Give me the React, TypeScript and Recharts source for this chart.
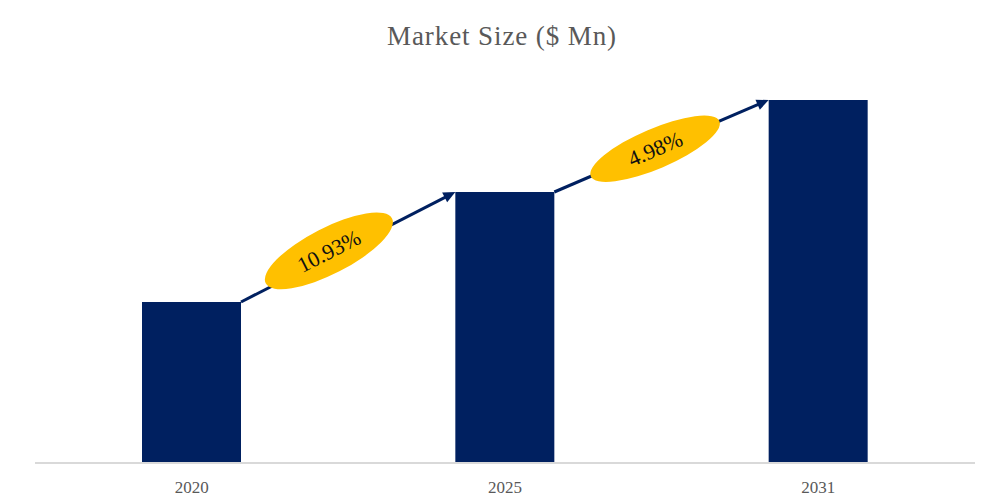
import React from 'react';
import { BarChart, Bar, XAxis, YAxis, Customized } from 'recharts';

// Values (relative units, no value axis in the source)
const years = ['2020', '2025', '2031'];
const marketSize = [161, 271, 363];
const cagrLabels = ['10.93%', '4.98%'];

const chartData = years.map((year, i) => ({ year, value: marketSize[i] }));

const NAVY = '#002060';
const GOLD = '#FFC000';
const SERIF = '"Liberation Serif", "Times New Roman", serif';

// badge placement along each arrow (fraction of length) and ellipse radii
const badgeT = [0.41, 0.47];
const badgeLift = [6, 0];
const badgeRx = [71, 70];
const badgeRy = [23, 20];

// filled as bars render, so each bar can draw the arrow from the previous one
const barBoxes: { x: number; y: number; width: number }[] = [];

function GrowthBar(props: any) {
  const { x, y, width, height, index } = props;
  barBoxes[index] = { x, y, width };
  const prev = index > 0 ? barBoxes[index - 1] : undefined;

  let arrow: React.ReactNode = null;
  if (prev) {
    const x1 = prev.x + prev.width;
    const y1 = prev.y;
    const x2 = x;
    const y2 = y;
    const dx = x2 - x1;
    const dy = y2 - y1;
    const len = Math.sqrt(dx * dx + dy * dy);
    const ux = dx / len;
    const uy = dy / len;
    const angle = (Math.atan2(dy, dx) * 180) / Math.PI;
    const headLen = 12;
    const headHalf = 5.5;
    const bx = x2 - ux * headLen;
    const by = y2 - uy * headLen;
    const k = index - 1;
    const t = badgeT[k] ?? 0.45;
    const cx = x1 + dx * t;
    const cy = y1 + dy * t - (badgeLift[k] ?? 0);
    arrow = (
      <g>
        <line x1={x1} y1={y1} x2={bx + ux * 2} y2={by + uy * 2} stroke={NAVY} strokeWidth={3} />
        <polygon
          points={`${x2},${y2} ${bx - uy * headHalf},${by + ux * headHalf} ${bx + uy * headHalf},${by - ux * headHalf}`}
          fill={NAVY}
        />
        <g transform={`translate(${cx},${cy}) rotate(${angle})`}>
          <ellipse cx={0} cy={0} rx={badgeRx[k] ?? 70} ry={badgeRy[k] ?? 22} fill={GOLD} />
          <text
            x={0}
            y={0}
            dy="0.35em"
            textAnchor="middle"
            fontFamily={SERIF}
            fontSize={22}
            fill="#111111"
          >
            {cagrLabels[k]}
          </text>
        </g>
      </g>
    );
  }

  return (
    <g>
      <rect x={x} y={y} width={width} height={height} fill={NAVY} />
      {arrow}
    </g>
  );
}

function Title() {
  return (
    <text
      x={502}
      y={45}
      textAnchor="middle"
      fontFamily={SERIF}
      fontSize={27}
      letterSpacing={0.9}
      fill="#595959"
    >
      Market Size ($ Mn)
    </text>
  );
}

export default function App() {
  return (
    <div style={{ position: 'absolute', left: 0, top: 0, background: '#ffffff' }}>
      <BarChart
        width={1005}
        height={502}
        data={chartData}
        margin={{ top: 100, right: 30, left: 35, bottom: 0 }}
      >
        <Customized component={Title} />
        <XAxis
          dataKey="year"
          height={39}
          axisLine={{ stroke: '#d9d9d9', strokeWidth: 2 }}
          tickLine={false}
          tickMargin={12}
          tick={{ fill: '#595959', fontFamily: SERIF, fontSize: 17 }}
        />
        <YAxis hide domain={[0, 363]} />
        <Bar dataKey="value" barSize={99} fill={NAVY} shape={GrowthBar} isAnimationActive={false} />
      </BarChart>
    </div>
  );
}
